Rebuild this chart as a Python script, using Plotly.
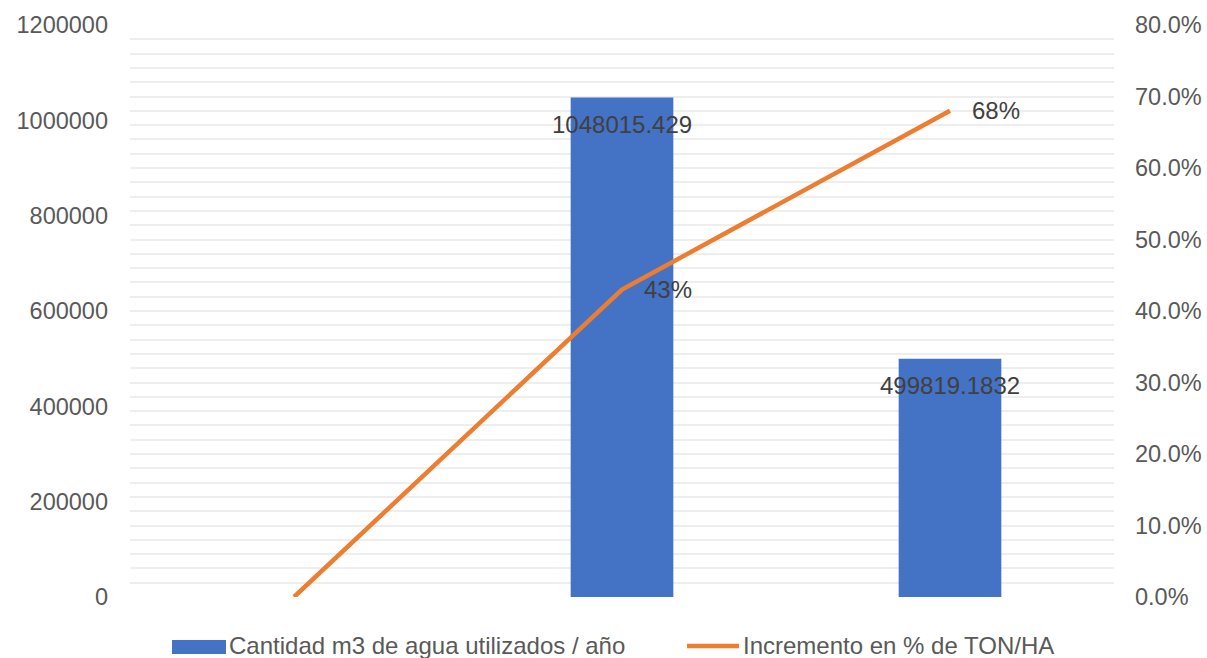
import plotly.graph_objects as go

categories = ["A", "B", "C"]
water_m3 = [None, 1048015.429, 499819.1832]
water_labels = ["", "1048015.429", "499819.1832"]
increase_pct = [0.0, 0.43, 0.68]
increase_labels = ["", "43%", "68%"]
left_ticks = [0, 200000, 400000, 600000, 800000, 1000000, 1200000]
right_ticks = [0.0, 0.1, 0.2, 0.3, 0.4, 0.5, 0.6, 0.7, 0.8]

W, H = 1207, 658
L, R, T, B = 130, 1114, 24.6, 597
FONT = "Liberation Sans, Arial, sans-serif"
FS = 24
TFS = 23.5
BLUE = "#4472C4"
ORANGE = "#ED7D31"

def px_x(x):
    return (x - L) / (R - L)

def px_y(y):
    return (B - y) / (B - T)

fig = go.Figure()
fig.add_trace(go.Bar(x=categories, y=water_m3, marker=dict(color=BLUE, line=dict(width=0)),
                     name="Cantidad m3 de agua utilizados / año", showlegend=False, yaxis="y"))
fig.add_trace(go.Scatter(x=categories, y=increase_pct, mode="lines",
                         line=dict(color=ORANGE, width=4.5),
                         name="Incremento en % de TON/HA", showlegend=False, yaxis="y2"))

annotations = []
for c, v, t in zip(categories, water_m3, water_labels):
    if v is not None and t:
        annotations.append(dict(x=c, y=v, xref="x", yref="y", text=t, showarrow=False,
                                xanchor="center", yanchor="middle", yshift=-27,
                                font=dict(family=FONT, size=FS, color="#404040")))
for c, v, t in zip(categories, increase_pct, increase_labels):
    if t:
        annotations.append(dict(x=c, y=v, xref="x", yref="y2", text=t, showarrow=False,
                                xanchor="left", yanchor="middle", xshift=20,
                                font=dict(family=FONT, size=FS, color="#404040")))

# custom legend
legend_y = 646
annotations.append(dict(x=px_x(227), y=px_y(legend_y), xref="paper", yref="paper",
                        text="Cantidad m3 de agua utilizados / año", showarrow=False,
                        xanchor="left", yanchor="middle",
                        font=dict(family=FONT, size=FS, color="#595959")))
annotations.append(dict(x=px_x(741), y=px_y(legend_y), xref="paper", yref="paper",
                        text="Incremento en % de TON/HA", showarrow=False,
                        xanchor="left", yanchor="middle",
                        font=dict(family=FONT, size=FS, color="#595959")))
shapes = [
    dict(type="rect", xref="paper", yref="paper", x0=px_x(172), x1=px_x(226),
         y0=px_y(654), y1=px_y(640), fillcolor=BLUE, line=dict(width=0)),
    dict(type="line", xref="paper", yref="paper", x0=px_x(687), x1=px_x(739),
         y0=px_y(646), y1=px_y(646), line=dict(color=ORANGE, width=4.5)),
]

fig.update_layout(
    width=W, height=H,
    margin=dict(l=L, r=W - R, t=T, b=H - B, pad=0, autoexpand=False),
    paper_bgcolor="white", plot_bgcolor="white",
    bargap=0.687,
    font=dict(family=FONT, size=FS, color="#595959"),
    xaxis=dict(type="category", categoryorder="array", categoryarray=categories,
               range=[-0.5, len(categories) - 0.5], autorange=False,
               showticklabels=False, showgrid=False, zeroline=False,
               showline=False, ticks="", automargin=False),
    yaxis=dict(range=[0, 1200000], tickvals=left_ticks, tickformat="d",
               showgrid=False, zeroline=False, showline=False, ticks="",
               automargin=False,
               ticklabelstandoff=21, tickfont=dict(size=TFS, color="#595959")),
    yaxis2=dict(range=[0, 0.8], overlaying="y", side="right", tickvals=right_ticks,
                tickformat=".1%", showgrid=True, gridcolor="#EEEEEE", gridwidth=1.5,
                minor=dict(dtick=0.02, showgrid=True, gridcolor="#EEEEEE", gridwidth=1.5),
                zeroline=False, showline=False, ticks="", ticklabelstandoff=20,
                automargin=False,
                tickfont=dict(size=TFS, color="#595959")),
    annotations=annotations,
    shapes=shapes,
)

fig.write_html("out.html")
